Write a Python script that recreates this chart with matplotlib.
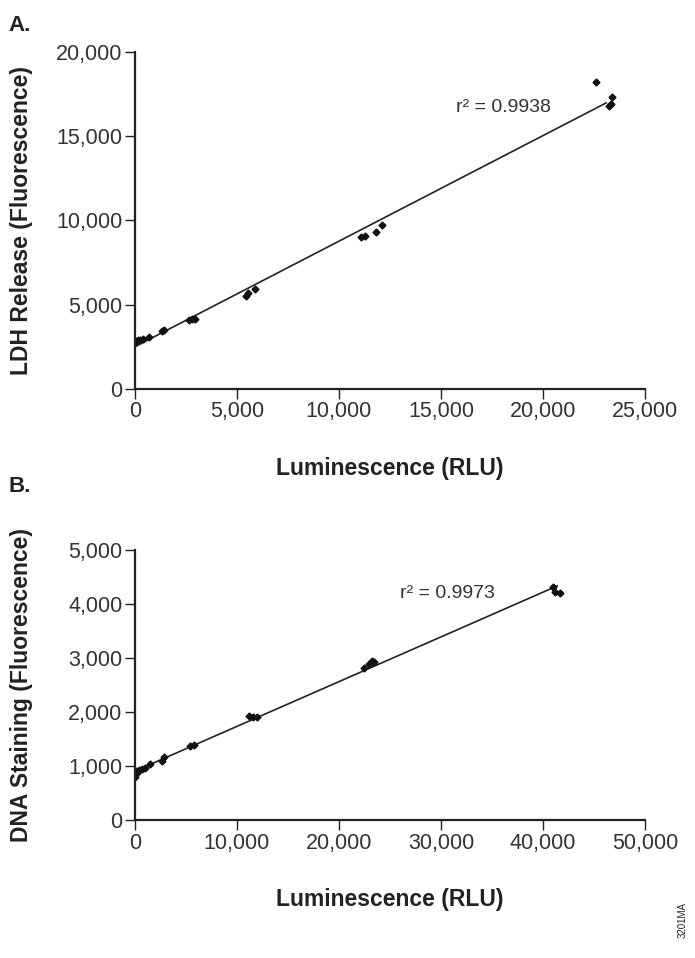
import matplotlib
matplotlib.use('Agg')
import matplotlib.pyplot as plt
from matplotlib.ticker import FuncFormatter
import numpy as np

# Panel A: luminescence (RLU) vs LDH release (fluorescence)
lum_a = [0, 0, 50, 150, 250, 400, 700, 1350, 1450, 2650, 2800, 2950,
         5450, 5550, 5900, 11100, 11300, 11800, 12100, 22600, 23250, 23350, 23400]
ldh_a = [2750, 2800, 2850, 2900, 2900, 2950, 3100, 3450, 3500, 4100, 4150, 4150,
         5500, 5700, 5900, 9000, 9100, 9300, 9750, 18200, 16800, 16900, 17300]
r2_a = 'r\u00b2 = 0.9938'

# Panel B: luminescence (RLU) vs DNA staining (fluorescence)
lum_b = [0, 50, 100, 200, 400, 700, 1000, 1500, 2700, 2900, 5400, 5800,
         11200, 11600, 12000, 22500, 23000, 23200, 23400, 41000, 41200, 41700]
dna_b = [800, 850, 900, 880, 920, 950, 970, 1030, 1100, 1160, 1370, 1390,
         1930, 1910, 1910, 2820, 2880, 2950, 2920, 4320, 4220, 4210]
r2_b = 'r\u00b2 = 0.9973'

plt.rcParams['font.family'] = ['Liberation Sans', 'DejaVu Sans']
bold_font = ['Liberation Sans', 'DejaVu Sans']

fig = plt.figure(figsize=(6.95, 9.58), dpi=100)
axA = fig.add_axes([0.194, 0.594, 0.734, 0.352])
axB = fig.add_axes([0.194, 0.144, 0.734, 0.282])

commas = FuncFormatter(lambda v, p: f'{int(v):,}')


def panel(ax, x, y, r2, xmax, ymax, xstep, ystep, ylabel, r2pos):
    x = np.array(x, float)
    y = np.array(y, float)
    k, d = np.polyfit(x, y, 1)
    xx = np.array([0, x.max() - 300])
    ax.plot(xx, k * xx + d, color='#222222', lw=1.2, zorder=1)
    ax.plot(x, y, 'D', color='#111111', ms=3.5, mec='#111111', zorder=2)
    ax.set_xlim(0, xmax)
    ax.set_ylim(0, ymax)
    ax.set_xticks(np.arange(0, xmax + 1, xstep))
    ax.set_yticks(np.arange(0, ymax + 1, ystep))
    ax.xaxis.set_major_formatter(commas)
    ax.yaxis.set_major_formatter(commas)
    for s in ['top', 'right']:
        ax.spines[s].set_visible(False)
    for s in ['left', 'bottom']:
        ax.spines[s].set_linewidth(1.6)
        ax.spines[s].set_color('#222222')
    ax.tick_params(direction='out', length=7, width=1, labelsize=15.5,
                   color='#222222', labelcolor='#333333', pad=2)
    ax.set_xlabel('Luminescence (RLU)', fontsize=16.5, fontweight='bold',
                  family=bold_font, labelpad=25, color='#222222')
    ax.set_ylabel(ylabel, fontsize=16.5, fontweight='bold', family=bold_font,
                  color='#222222')
    ax.yaxis.set_label_coords(-0.2, 0.5)
    ax.text(r2pos[0], r2pos[1], r2, fontsize=14, color='#333333',
            transform=ax.transAxes, ha='left', va='center')


panel(axA, lum_a, ldh_a, r2_a, 25000, 20000, 5000, 5000,
      'LDH Release (Fluorescence)', (0.63, 0.834))
panel(axB, lum_b, dna_b, r2_b, 50000, 5000, 10000, 1000,
      'DNA Staining (Fluorescence)', (0.52, 0.84))

fig.text(0.012, 0.973, 'A.', fontsize=16, fontweight='bold', family=bold_font,
         color='#222222', va='center')
fig.text(0.012, 0.492, 'B.', fontsize=16, fontweight='bold', family=bold_font,
         color='#222222', va='center')
fig.text(0.983, 0.04, '3201MA', fontsize=7, rotation=90, color='#222222',
         ha='center', va='center')

plt.savefig('out.png', dpi=100)
